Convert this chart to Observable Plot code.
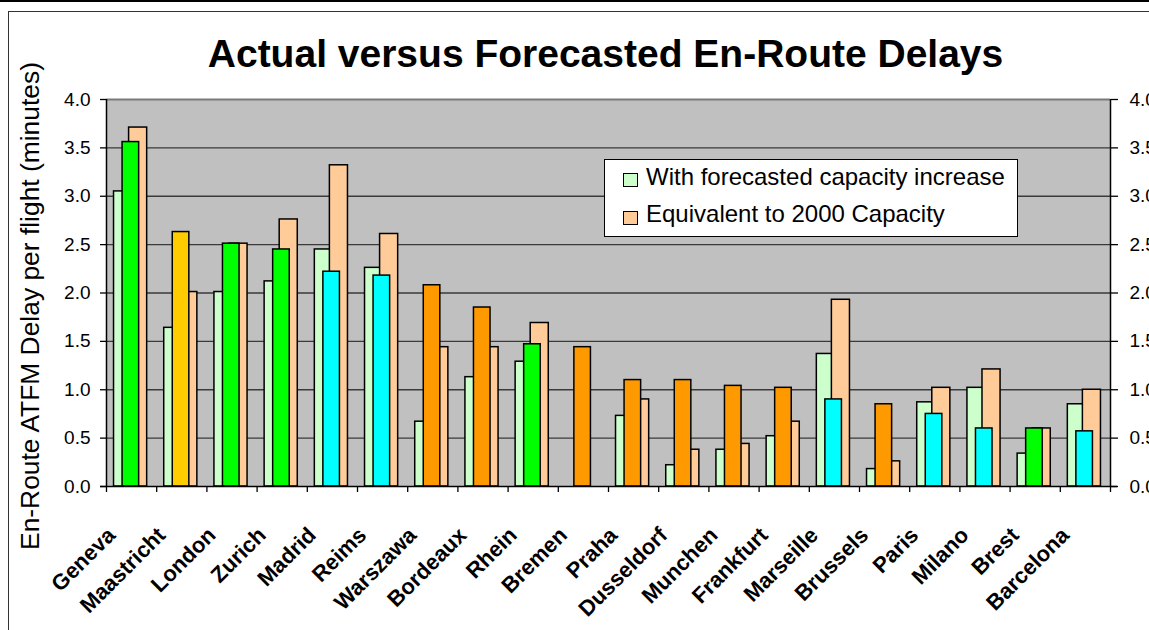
<!DOCTYPE html>
<html>
<head>
<meta charset="utf-8">
<script src="https://cdn.jsdelivr.net/npm/d3@7"></script>
<script src="https://cdn.jsdelivr.net/npm/@observablehq/plot@0.6"></script>
<style>
  html, body { margin: 0; padding: 0; background: #fff; }
  #chart { position: relative; width: 1149px; height: 630px; overflow: hidden;
           font-family: "Liberation Sans", Arial, sans-serif; color: #000; }
  #chart svg { position: absolute; left: 0; top: 0; }
  #chart g[aria-label="centre names"] text { letter-spacing: -0.8px; }
  .topline { position: absolute; left: 0; top: 0; width: 1149px; height: 2px; background: #000; }
  .box { position: absolute; left: 8px; top: 11px; width: 1200px; height: 700px; border: 1px solid #333; }
  .legend { position: absolute; left: 604px; top: 159px; width: 414px; height: 78px;
            box-sizing: border-box; background: #fff; border: 1px solid #000; }
  .sw { position: absolute; width: 15px; height: 14px; box-sizing: border-box; border: 1.5px solid #000; }
  .lt { position: absolute; font-size: 24px; line-height: 24px; white-space: nowrap; }
</style>
</head>
<body>
<div id="chart"></div>
<script>
// Air traffic control centres along the x axis
const centres = ["Geneva", "Maastricht", "London", "Zurich", "Madrid", "Reims", "Warszawa",
  "Bordeaux", "Rhein", "Bremen", "Praha", "Dusseldorf", "Munchen", "Frankfurt", "Marseille",
  "Brussels", "Paris", "Milano", "Brest", "Barcelona"];

// En-route ATFM delay per flight (minutes)
const forecastIncrease = [3.05, 1.64, 2.01, 2.12, 2.45, 2.26, 0.67, 1.13, 1.29, null,
  0.73, 0.22, 0.38, 0.52, 1.37, 0.18, 0.87, 1.02, 0.34, 0.85];
const actualDelay = [3.56, 2.63, 2.51, 2.45, 2.22, 2.18, 2.08, 1.85, 1.47, 1.44,
  1.10, 1.10, 1.04, 1.02, 0.90, 0.85, 0.75, 0.60, 0.60, 0.57];
const capacity2000 = [3.71, 2.01, 2.51, 2.76, 3.32, 2.61, 1.44, 1.44, 1.69, null,
  0.90, 0.38, 0.44, 0.67, 1.93, 0.26, 1.02, 1.21, 0.60, 1.00];
// Status group of each centre's actual delay
const actualGroup = ["G", "Y", "G", "G", "C", "C", "O", "O", "G", "O",
  "O", "O", "O", "O", "C", "O", "C", "C", "G", "C"];

const yTicks = [0, 0.5, 1.0, 1.5, 2.0, 2.5, 3.0, 3.5, 4.0];

// Per-centre rows, each occupying one unit of the x scale
const rows = centres.map((name, i) => ({
  name, i,
  forecast: forecastIncrease[i],
  actual: actualDelay[i],
  cap: capacity2000[i],
  group: actualGroup[i]
}));

const font = "'Liberation Sans', Arial, sans-serif";

const chart = Plot.plot({
  width: 1149,
  height: 630,
  marginLeft: 106,
  marginRight: 39,
  marginTop: 99,
  marginBottom: 144,
  style: { fontFamily: font, background: "transparent", overflow: "visible" },
  x: { type: "linear", domain: [0, centres.length] },
  y: { domain: [0, 4] },
  color: { domain: ["G", "Y", "C", "O"], range: ["#00ff00", "#ffcc00", "#00ffff", "#ff9900"] },
  marks: [
    Plot.frame({ fill: "#c0c0c0", stroke: null }),
    Plot.ruleY(yTicks.filter(d => d > 0 && d < 4), { stroke: "#3a3a3a", strokeWidth: 1.3 }),
    Plot.ruleY([4], { stroke: "#7a7a7a", strokeWidth: 2 }),
    // forecast with capacity increase
    Plot.rect(rows.filter(d => d.forecast != null), {
      x1: d => d.i + 0.15, x2: d => d.i + 0.5, y1: 0, y2: "forecast",
      fill: "#ccffcc", stroke: "#000", strokeWidth: 1.5
    }),
    // equivalent to 2000 capacity
    Plot.rect(rows.filter(d => d.cap != null), {
      x1: d => d.i + 0.45, x2: d => d.i + 0.81, y1: 0, y2: "cap",
      fill: "#ffcc99", stroke: "#000", strokeWidth: 1.5
    }),
    // actual delay
    Plot.rect(rows, {
      x1: d => d.i + 0.32, x2: d => d.i + 0.65, y1: 0, y2: "actual",
      fill: "group", stroke: "#000", strokeWidth: 1.5
    }),
    Plot.ruleX([0, centres.length], { stroke: "#000", strokeWidth: 1.5 }),
    Plot.ruleY([0], { stroke: "#000", strokeWidth: 1.5, insetLeft: -6, insetRight: -7 }),
    Plot.axisY({ anchor: "left", ticks: yTicks, tickFormat: d3.format(".1f"), tickSize: 6,
      tickPadding: 10, fontSize: 19, label: null, strokeWidth: 1.3 }),
    Plot.axisY({ anchor: "right", ticks: yTicks, tickFormat: d3.format(".1f"), tickSize: 7,
      tickPadding: 12, fontSize: 19, label: null, strokeWidth: 1.3 }),
    Plot.axisX({ ticks: d3.range(centres.length + 1), tickFormat: () => "", tickSize: 6,
      label: null, strokeWidth: 1.3 }),
    // centre names, slanted
    Plot.text(rows, {
      x: d => d.i + 0.5, y: 0, text: "name", rotate: -45, textAnchor: "end",
      lineAnchor: "middle", dx: -20, dy: 45, fontSize: 22, fontWeight: "bold",
      ariaLabel: "centre names"
    }),
    // y axis title
    Plot.text(["En-Route ATFM Delay per flight (minutes)"], {
      text: d => d, frameAnchor: "left", rotate: -90, textAnchor: "middle",
      lineAnchor: "bottom", dx: -68, dy: 13, fontSize: 26.4
    }),
    // chart title
    Plot.text(["Actual versus Forecasted En-Route Delays"], {
      text: d => d, frameAnchor: "top", lineAnchor: "bottom", dx: -3, dy: -33,
      fontSize: 39, fontWeight: "bold"
    })
  ]
});

const root = document.getElementById("chart");
root.appendChild(chart);

const topLine = document.createElement("div"); topLine.className = "topline"; root.appendChild(topLine);
const outerBox = document.createElement("div"); outerBox.className = "box"; root.appendChild(outerBox);

// legend
const legendItems = [
  { label: "With forecasted capacity increase", fill: "#ccffcc", sw: 172, tx: 163.7 },
  { label: "Equivalent to 2000 Capacity", fill: "#ffcc99", sw: 209.5, tx: 201.4 }
];
const legend = document.createElement("div"); legend.className = "legend"; root.appendChild(legend);
for (const item of legendItems) {
  const sw = document.createElement("div");
  sw.className = "sw";
  sw.style.left = (622 - 604) + "px";
  sw.style.top = (item.sw - 159) + "px";
  sw.style.background = item.fill;
  legend.appendChild(sw);
  const t = document.createElement("div");
  t.className = "lt";
  t.style.left = (645 - 604) + "px";
  t.style.top = (item.tx - 159) + "px";
  t.textContent = item.label;
  legend.appendChild(t);
}
</script>
</body>
</html>
